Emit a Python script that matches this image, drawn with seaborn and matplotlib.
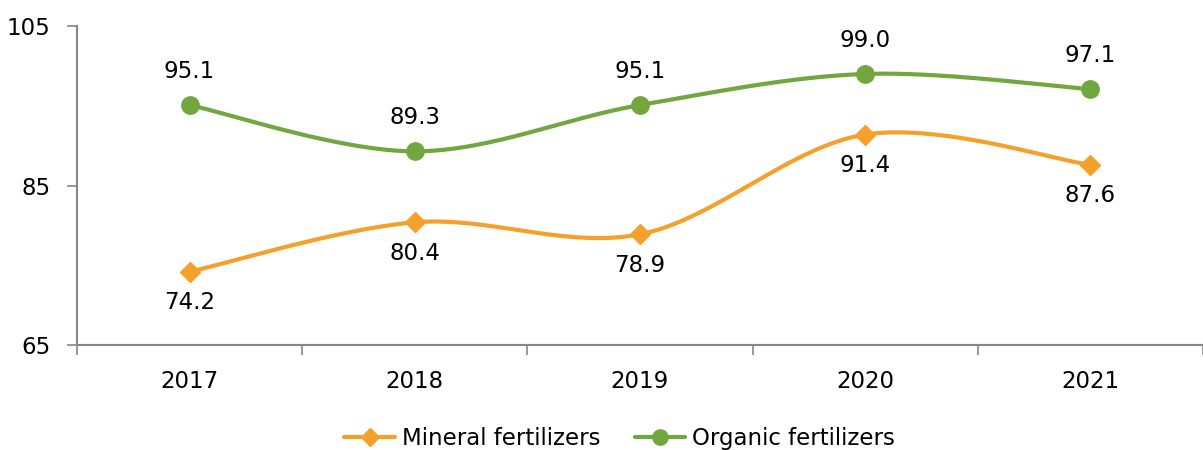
import numpy as np
import pandas as pd
import seaborn as sns
import matplotlib.pyplot as plt
from matplotlib.lines import Line2D

years = ["2017", "2018", "2019", "2020", "2021"]
mineral = [74.2, 80.4, 78.9, 91.4, 87.6]
organic = [95.1, 89.3, 95.1, 99.0, 97.1]

sns.set_style("white")
plt.rcParams["font.family"] = ["DejaVu Sans"]
plt.rcParams["text.color"] = "black"
plt.rcParams["xtick.color"] = "black"
plt.rcParams["ytick.color"] = "black"

ORANGE = "#F6A02C"
GREEN = "#72A63E"
GREY = "#868686"


def smooth(xs, ys, n=40):
    # excel-like smoothed line: cubic bezier with catmull-rom style control points
    pts = np.column_stack([xs, ys]).astype(float)
    out = []
    for i in range(len(pts) - 1):
        p0 = pts[i - 1] if i > 0 else pts[i]
        p1, p2 = pts[i], pts[i + 1]
        p3 = pts[i + 2] if i + 2 < len(pts) else pts[i + 1]
        c1 = p1 + (p2 - p0) / 6
        c2 = p2 - (p3 - p1) / 6
        t = np.linspace(0, 1, n)[:, None]
        seg = (1 - t) ** 3 * p1 + 3 * (1 - t) ** 2 * t * c1 + 3 * (1 - t) * t ** 2 * c2 + t ** 3 * p2
        out.append(seg if i == 0 else seg[1:])
    seg = np.vstack(out)
    return pd.DataFrame({"x": seg[:, 0], "y": seg[:, 1]})


fig = plt.figure(figsize=(12.03, 4.5), dpi=100)
ax = fig.add_axes([0.064, 0.233, 0.936, 0.709])

xpos = np.arange(len(years))
for vals, col, mk, ms, off, va in [
    (mineral, ORANGE, "D", 10, -14, "top"),
    (organic, GREEN, "o", 12.5, 16, "bottom"),
]:
    curve = smooth(xpos, vals)
    sns.lineplot(data=curve, x="x", y="y", ax=ax, color=col, linewidth=3, sort=False)
    ax.plot(xpos, vals, linestyle="none", marker=mk, markersize=ms, color=col)
    for x, v in zip(xpos, vals):
        ax.annotate(f"{v:.1f}", (x, v), xytext=(0, off), textcoords="offset points",
                    ha="center", va=va, fontsize=16.5)

ax.set_xlim(-0.5, len(years) - 0.5)
ax.set_ylim(65, 105)
ax.set_yticks([65, 85, 105])
ax.set_xticks(np.arange(-0.5, len(years)), minor=False)
ax.set_xticklabels([])
ax.set_xticks(xpos, minor=True)
ax.set_xticklabels(years, minor=True)
ax.tick_params(axis="x", which="major", length=7, color=GREY, width=1.2, direction="out")
ax.tick_params(axis="x", which="minor", length=0, labelsize=16.5, pad=18)
ax.tick_params(axis="y", length=7, color=GREY, width=1.2, direction="out", labelsize=16.5, pad=12)
ax.xaxis.set_ticks_position("bottom")
ax.yaxis.set_ticks_position("left")
ax.set_xlabel("")
ax.set_ylabel("")
for s in ["top", "right"]:
    ax.spines[s].set_visible(False)
for s in ["left", "bottom"]:
    ax.spines[s].set_color(GREY)
    ax.spines[s].set_linewidth(1.5)

handles = [
    Line2D([], [], color=ORANGE, linewidth=3, marker="D", markersize=9, label="Mineral fertilizers"),
    Line2D([], [], color=GREEN, linewidth=3, marker="o", markersize=11, label="Organic fertilizers"),
]
fig.legend(handles=handles, loc="center", bbox_to_anchor=(0.515, 0.025), ncol=2, frameon=False,
           fontsize=16.5, handlelength=2.2, columnspacing=1.5, handletextpad=0.3)

fig.savefig("out.png", dpi=100)
